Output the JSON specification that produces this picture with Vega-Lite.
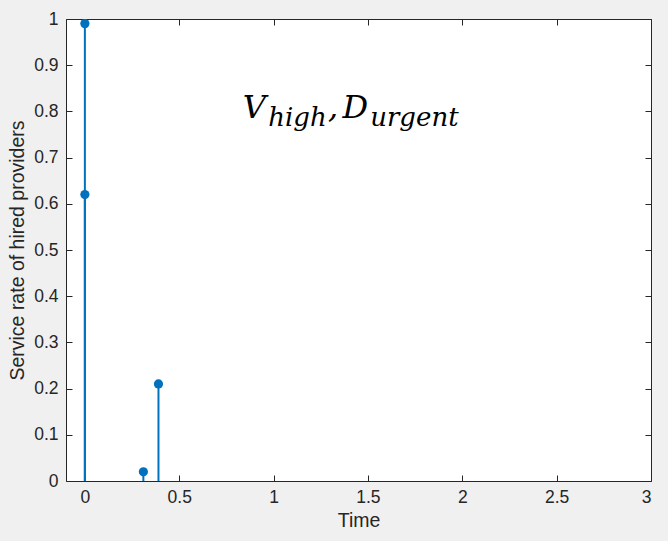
{
  "$schema": "https://vega.github.io/schema/vega-lite/v6.json",
  "width": 585,
  "height": 462,
  "autosize": "none",
  "padding": {"left": 66, "top": 19, "right": 17, "bottom": 60},
  "background": "#f0f0f0",
  "config": {
    "view": {"fill": "white", "stroke": "#262626", "strokeWidth": 1},
    "axis": {
      "grid": false,
      "domain": false,
      "tickSize": -6,
      "tickColor": "#262626",
      "labelColor": "#262626",
      "labelFont": "Liberation Sans",
      "labelFontSize": 17.5,
      "titleFont": "Liberation Sans",
      "titleFontSize": 19.5,
      "titleFontWeight": "normal",
      "titleColor": "#262626"
    }
  },
  "datasets": {
    "stems": [
      {"time": 0, "rate": 0.99},
      {"time": 0, "rate": 0.62},
      {"time": 0.31, "rate": 0.02},
      {"time": 0.39, "rate": 0.21}
    ],
    "label": [
      {"lx": 0.837, "ly": 0.786, "txt": "V", "part": "main"},
      {"lx": 0.972, "ly": 0.768, "txt": "high", "part": "sub"},
      {"lx": 1.288, "ly": 0.786, "txt": ",", "part": "main"},
      {"lx": 1.365, "ly": 0.786, "txt": "D", "part": "main"},
      {"lx": 1.512, "ly": 0.768, "txt": "urgent", "part": "sub"}
    ]
  },
  "resolve": {"axis": {"x": "independent", "y": "independent"}},
  "layer": [
    {
      "data": {"name": "stems"},
      "mark": {"type": "rule", "color": "#0072BD", "strokeWidth": 2},
      "encoding": {
        "x": {
          "field": "time", "type": "quantitative",
          "scale": {"domain": [-0.1, 3], "nice": false, "zero": false},
          "axis": {"orient": "bottom", "values": [0, 0.5, 1, 1.5, 2, 2.5, 3], "format": "~g", "title": "Time", "labelPadding": 13, "titlePadding": 6}
        },
        "y": {
          "field": "rate", "type": "quantitative",
          "scale": {"domain": [0, 1], "nice": false},
          "axis": {"orient": "left", "values": [0, 0.1, 0.2, 0.3, 0.4, 0.5, 0.6, 0.7, 0.8, 0.9, 1], "format": "~g", "title": "Service rate of hired providers", "labelPadding": 14, "titlePadding": 6}
        },
        "y2": {"datum": 0}
      }
    },
    {
      "data": {"name": "stems"},
      "mark": {"type": "point", "filled": true, "opacity": 1, "color": "#0072BD", "size": 85},
      "encoding": {
        "x": {
          "field": "time", "type": "quantitative",
          "scale": {"domain": [-0.1, 3], "nice": false, "zero": false},
          "axis": {"orient": "top", "values": [0, 0.5, 1, 1.5, 2, 2.5, 3], "labels": false, "title": null}
        },
        "y": {
          "field": "rate", "type": "quantitative",
          "scale": {"domain": [0, 1], "nice": false},
          "axis": {"orient": "right", "values": [0, 0.1, 0.2, 0.3, 0.4, 0.5, 0.6, 0.7, 0.8, 0.9, 1], "labels": false, "title": null}
        }
      }
    },
    {
      "data": {"name": "label"},
      "transform": [{"filter": "datum.part === 'main'"}],
      "mark": {"type": "text", "font": "DejaVu Serif", "fontStyle": "italic", "fontSize": 32, "align": "left", "baseline": "alphabetic", "color": "black"},
      "encoding": {
        "x": {"field": "lx", "type": "quantitative", "axis": null},
        "y": {"field": "ly", "type": "quantitative", "axis": null},
        "text": {"field": "txt"}
      }
    },
    {
      "data": {"name": "label"},
      "transform": [{"filter": "datum.part === 'sub'"}],
      "mark": {"type": "text", "font": "DejaVu Serif", "fontStyle": "italic", "fontSize": 26, "align": "left", "baseline": "alphabetic", "color": "black"},
      "encoding": {
        "x": {"field": "lx", "type": "quantitative", "axis": null},
        "y": {"field": "ly", "type": "quantitative", "axis": null},
        "text": {"field": "txt"}
      }
    }
  ]
}
